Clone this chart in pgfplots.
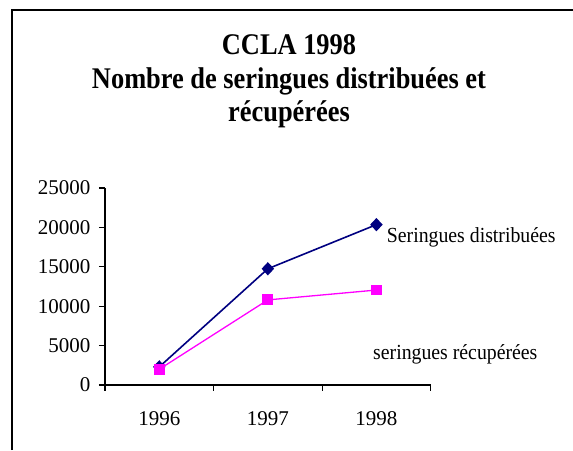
\documentclass[border=0pt]{standalone}
\usepackage{fontspec}
\setmainfont{Liberation Serif}
\newfontfamily\titlefont{Liberation Serif}[FakeStretch=0.88]
\newfontfamily\labelfont{Liberation Serif}[FakeStretch=0.92]
\usepackage{pgfplots}
\pgfplotsset{compat=1.18}
\definecolor{navyc}{RGB}{0,0,128}
\definecolor{magc}{RGB}{255,0,255}
\begin{document}
\begin{tikzpicture}[x=1pt,y=1pt]
\path[use as bounding box] (0,0) rectangle (573,450);
\draw[line width=2pt] (11.5,0) -- (11.5,439.5) -- (573,439.5);
\node[anchor=base, inner sep=0pt, font=\titlefont\bfseries\fontsize{30}{33}\selectfont] at (289,395) {CCLA 1998};
\node[anchor=base, inner sep=0pt, font=\titlefont\bfseries\fontsize{30}{33}\selectfont] at (289,361.7) {Nombre de seringues distribuées et};
\node[anchor=base, inner sep=0pt, font=\titlefont\bfseries\fontsize{30}{33}\selectfont] at (289,328.3) {récupérées};
\begin{axis}[
  at={(105pt,65pt)}, anchor=south west,
  scale only axis, width=325.7pt, height=197pt,
  xmin=-0.5, xmax=2.5, ymin=0, ymax=25000,
  clip=false,
  axis lines*=left,
  axis line style={black, line width=1.2pt},
  xtick={-0.5,0.5,1.5,2.5}, xticklabels={},
  extra x ticks={0,1,2}, extra x tick labels={1996,1997,1998},
  extra x tick style={major tick length=0pt, xticklabel style={anchor=base, yshift=-41pt}},
  ytick={0,5000,10000,15000,20000,25000},
  yticklabel style={xshift=-5pt},
  tick align=outside, major tick length=6pt,
  tick style={black, line width=1.2pt},
  tick label style={font=\fontsize{21}{21}\selectfont},
  /pgf/number format/assume math mode=true,
  /pgf/number format/set thousands separator={},
  scaled y ticks=false,
]
\addplot[navyc, line width=1.6pt, mark=diamond*, mark size=5.5pt, mark options={solid, xscale=1.25, fill=navyc}] coordinates {(0,2300) (1,14750) (2,20350)};
\addplot[magc, line width=1.3pt, mark=square*, mark size=4.75pt, mark options={solid, fill=magc}] coordinates {(0,2000) (1,10800) (2,12050)};
\end{axis}
\node[anchor=base west, inner sep=0pt, font=\labelfont\fontsize{21.5}{22}\selectfont] at (386.7,207) {Seringues distribuées};
\node[anchor=base west, inner sep=0pt, font=\labelfont\fontsize{21.5}{22}\selectfont] at (373,90) {seringues récupérées};
\end{tikzpicture}
\end{document}
